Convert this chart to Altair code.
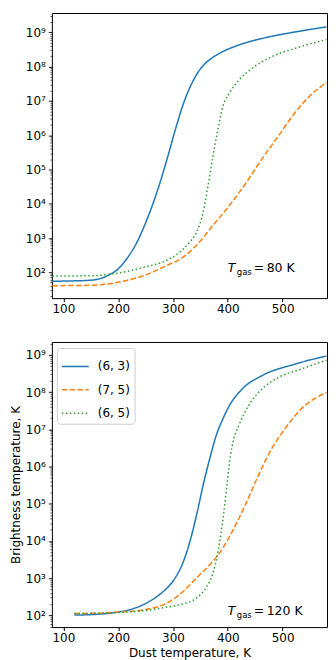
import altair as alt
import pandas as pd

FONT = "DejaVu Sans"

# ---- data (log10 of brightness temperature) ----
series_names = ["(6, 3)", "(7, 5)", "(6, 5)"]
series_colors = ["#1f77b4", "#ff7f0e", "#2ca02c"]
series_dashes = [[1, 0], [5.5, 2.4], [1.5, 2.5]]

# Top panel: T_gas = 80 K
top_63_T = [80, 120, 150, 170, 185, 200, 215, 230, 245, 260, 275, 290, 305, 319, 331, 343, 355, 370, 385, 420, 462, 522, 580]
top_63_log = [1.74, 1.75, 1.77, 1.83, 1.94, 2.10, 2.38, 2.75, 3.25, 3.85, 4.55, 5.35, 6.20, 6.92, 7.40, 7.77, 8.03, 8.24, 8.39, 8.63, 8.82, 9.01, 9.16]
top_75_T = [80, 150, 190, 220, 250, 283, 319, 343, 373, 403, 432, 462, 492, 522, 552, 580]
top_75_log = [1.61, 1.62, 1.68, 1.78, 1.92, 2.16, 2.45, 2.79, 3.37, 3.95, 4.58, 5.30, 5.97, 6.65, 7.18, 7.54]
top_65_T = [80, 150, 185, 220, 250, 283, 313, 331, 343, 355, 364, 373, 382, 391, 403, 421, 444, 480, 522, 580]
top_65_log = [1.89, 1.90, 1.94, 2.04, 2.16, 2.31, 2.60, 2.89, 3.17, 3.75, 4.53, 5.40, 6.17, 6.84, 7.23, 7.62, 7.95, 8.29, 8.53, 8.79]

# Bottom panel: T_gas = 120 K
bot_63_T = [120, 160, 200, 225, 250, 270, 285, 300, 319, 331, 343, 355, 367, 379, 391, 403, 426, 462, 522, 580]
bot_63_log = [2.01, 2.03, 2.09, 2.17, 2.32, 2.50, 2.68, 2.92, 3.45, 3.99, 4.70, 5.50, 6.21, 6.84, 7.28, 7.64, 8.08, 8.44, 8.75, 8.97]
bot_75_T = [120, 160, 200, 250, 283, 319, 343, 367, 387, 408, 432, 456, 480, 504, 534, 580]
bot_75_log = [2.05, 2.06, 2.09, 2.16, 2.29, 2.65, 3.01, 3.36, 3.72, 4.25, 4.97, 5.77, 6.48, 7.01, 7.55, 7.99]
bot_65_T = [120, 160, 200, 250, 283, 313, 343, 360, 372, 381, 387, 393, 399, 405, 411, 420, 438, 462, 492, 534, 580]
bot_65_log = [2.05, 2.06, 2.08, 2.13, 2.21, 2.29, 2.47, 2.74, 3.10, 3.63, 4.16, 4.79, 5.59, 6.30, 6.75, 7.10, 7.64, 8.08, 8.39, 8.62, 8.86]

x_ticks = [100, 200, 300, 400, 500]
top_ydomain_log = [1.247, 9.565]
bot_ydomain_log = [1.687, 9.347]
top_label = "80 K"
bot_label = "120 K"


def sdf(T, logv, name):
    return pd.DataFrame({"T": T, "Tb": [10 ** v for v in logv], "series": name})


top_df = pd.concat([sdf(top_63_T, top_63_log, series_names[0]),
                    sdf(top_75_T, top_75_log, series_names[1]),
                    sdf(top_65_T, top_65_log, series_names[2])])
bot_df = pd.concat([sdf(bot_63_T, bot_63_log, series_names[0]),
                    sdf(bot_75_T, bot_75_log, series_names[1]),
                    sdf(bot_65_T, bot_65_log, series_names[2])])

y_tick_vals = [m * 10 ** k for k in range(1, 10) for m in range(1, 10)]
is_major = "abs(log(datum.value)/LN10 - round(log(datum.value)/LN10)) < 1e-6"
sup = "['\u2070','\u00b9','\u00b2','\u00b3','\u2074','\u2075','\u2076','\u2077','\u2078','\u2079']"
y_label_expr = f"{is_major} ? '10' + {sup}[round(log(datum.value)/LN10)] : ''"

W = 276
H = 286


def panel(df, ydom_log, label, xtitle, ytitle, legend):
    xenc = alt.X("T:Q",
                 scale=alt.Scale(domain=[79, 581], nice=False, zero=False),
                 axis=alt.Axis(values=x_ticks, title=xtitle, tickSize=3.5, labelPadding=2, titlePadding=4))
    yenc = alt.Y("Tb:Q",
                 scale=alt.Scale(type="log", domain=[10 ** ydom_log[0], 10 ** ydom_log[1]], nice=False),
                 axis=alt.Axis(values=y_tick_vals, labelExpr=y_label_expr, title=ytitle,
                               labelOverlap=False, labelPadding=3, titlePadding=3,
                               tickSize={"condition": {"test": is_major, "value": 3.5}, "value": 2},
                               tickWidth={"condition": {"test": is_major, "value": 0.9}, "value": 0.6}))
    lines = alt.Chart(df).mark_line(strokeWidth=1.5, interpolate="monotone", clip=True).encode(
        x=xenc, y=yenc,
        color=alt.Color("series:N", scale=alt.Scale(domain=series_names, range=series_colors), legend=legend),
        strokeDash=alt.StrokeDash("series:N", scale=alt.Scale(domain=series_names, range=series_dashes), legend=legend),
    )
    ann = pd.DataFrame({"T": [400], "Tb": [100]})
    base = alt.Chart(ann).encode(x="T:Q", y="Tb:Q")
    t1 = base.mark_text(text="T", font=FONT, fontSize=12.5, fontStyle="italic", align="left", baseline="alphabetic", color="black")
    t2 = base.mark_text(text="gas", font=FONT, fontSize=8.5, align="left", baseline="alphabetic", dx=9, dy=2.5, color="black")
    t3 = base.mark_text(text="=", font=FONT, fontSize=12.5, align="left", baseline="alphabetic", dx=26, color="black")
    t4 = base.mark_text(text=label, font=FONT, fontSize=12.5, align="left", baseline="alphabetic", dx=39, color="black")
    return alt.layer(lines, t1, t2, t3, t4).properties(width=W, height=H)


leg = alt.Legend(title=None, orient="none", legendX=5, legendY=6, fillColor="white", strokeColor="#cccccc",
                 cornerRadius=3, padding=4, labelFont=FONT, labelFontSize=12, labelColor="black",
                 symbolType="stroke", symbolSize=729, symbolStrokeWidth=1.5, labelOffset=8, rowPadding=2.5)

top = panel(top_df, top_ydomain_log, top_label, None, None, None)
bot = panel(bot_df, bot_ydomain_log, bot_label, "Dust temperature, K", "Brightness temperature, K", leg)

chart = alt.vconcat(top, bot, spacing=22, padding=0).resolve_scale(
    color="independent", strokeDash="independent"
).configure_view(stroke="black", strokeWidth=1).configure_axis(
    labelFont=FONT, labelFontSize=12, labelColor="black", titleFont=FONT, titleFontSize=12,
    titleFontWeight="normal", titleColor="black", tickColor="black", domain=False, grid=False
)

chart.save("out.html", embed_options={"renderer": "svg", "actions": False})
